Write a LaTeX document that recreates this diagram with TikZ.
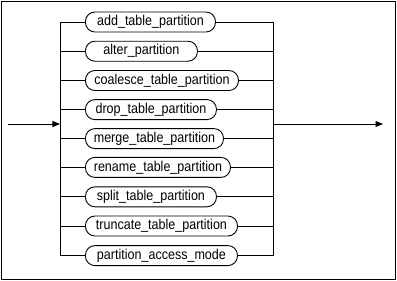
\documentclass[tikz,border=0pt]{standalone}
\usepackage{fontspec}
\setmainfont{Liberation Sans}
\newfontfamily\railfont[FakeStretch=0.88]{Liberation Sans}
\usetikzlibrary{arrows.meta}
\begin{document}
\begin{tikzpicture}[x=1bp,y=-1bp,
  railbox/.style={draw, rectangle, rounded corners=9.5bp, minimum height=20bp,
    inner sep=0pt, anchor=west, line width=0.9bp,
    font=\railfont\fontsize{14.3}{16}\selectfont},
  rail/.style={line width=0.9bp},
  tip/.style={rail, -{Triangle[length=7.5bp,width=6bp]}}]
\useasboundingbox (0,0) rectangle (397,281);
% frame
\draw[line width=1bp] (1,1) rectangle (395.5,279.5);
% junction points of the choice
\coordinate (start) at (8,124);
\coordinate (lj) at (60,124);
\coordinate (rj) at (273,124);
\coordinate (stop) at (383,124);
\coordinate (ltop) at (60,22);
\coordinate (lbot) at (60,255.6);
\coordinate (rtop) at (273,22);
\coordinate (rbot) at (273,255.6);
% alternatives
\foreach \name/\txt/\w/\y in {
  a/add\_table\_partition/130/22,
  b/alter\_partition/112/51.2,
  c/coalesce\_table\_partition/153/80.5,
  d/drop\_table\_partition/131/109.6,
  e/merge\_table\_partition/138/138.6,
  f/rename\_table\_partition/145/167.4,
  g/split\_table\_partition/131/196.8,
  h/truncate\_table\_partition/152/226,
  i/partition\_access\_mode/152/255.6} {
  \node[railbox, minimum width=\w bp] (n\name) at (85,\y) {\txt};
  \draw[rail] (ltop |- n\name.west) -- (n\name.west);
  \draw[rail] (n\name.east) -- (rtop |- n\name.east);
}
% rails
\draw[rail] (ltop) -- (lbot);
\draw[rail] (rtop) -- (rbot);
\draw[tip] (start) -- (lj);
\draw[tip] (rj) -- (stop);
\end{tikzpicture}
\end{document}
